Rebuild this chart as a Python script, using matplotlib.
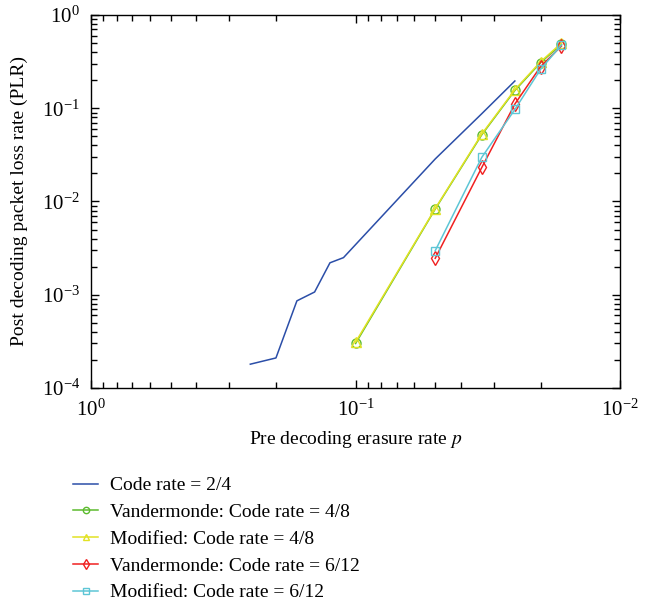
import numpy as np
import matplotlib
matplotlib.use('Agg')
import matplotlib.pyplot as plt

plt.rcParams['font.family'] = ['Liberation Serif', 'DejaVu Serif']
plt.rcParams['mathtext.fontset'] = 'stix'

# data
p_base = [1/4, 1/5, 1/6, 1/7, 1/8, 1/9, 1/10, 1/20, 1/30, 1/40]
plr_base = [1.8e-4, 2.1e-4, 8.6e-4, 1.07e-3, 2.2e-3, 2.5e-3, 3.45e-3, 2.86e-2, 8.75e-2, 1.96e-1]

p_48 = [1/10, 1/20, 1/30, 1/40, 1/50, 1/60]
plr_vand_48 = [3.0e-4, 8.3e-3, 5.2e-2, 1.55e-1, 3.08e-1, 4.85e-1]
plr_mod_48 = [3.1e-4, 8.4e-3, 5.3e-2, 1.58e-1, 3.15e-1, 5.0e-1]

p_612 = [1/20, 1/30, 1/40, 1/50, 1/60]
plr_vand_612 = [2.46e-3, 2.32e-2, 1.11e-1, 2.79e-1, 4.65e-1]
plr_mod_612 = [2.97e-3, 2.98e-2, 9.7e-2, 2.61e-1, 4.77e-1]

labels = ['Code rate = 2/4',
          'Vandermonde: Code rate = 4/8',
          'Modified: Code rate = 4/8',
          'Vandermonde: Code rate = 6/12',
          'Modified: Code rate = 6/12']

fig = plt.figure(figsize=(6.46, 6.02), dpi=100)
ax = fig.add_axes([0.1409, 0.3555, 0.8191, 0.6196])

ax.plot(p_base, plr_base, color='#2b4ea8', lw=1.1, label=labels[0])
ax.plot(p_48, plr_vand_48, color='#5cbb2e', lw=1.1, marker='o', ms=6.5,
        mfc='none', label=labels[1])
ax.plot(p_48, plr_mod_48, color='#e2e224', lw=1.1, marker='^', ms=6.5,
        mfc='none', label=labels[2])
ax.plot(p_612, plr_vand_612, color='#f02020', lw=1.1, marker='d', ms=7,
        mfc='none', label=labels[3])
ax.plot(p_612, plr_mod_612, color='#5ec6d6', lw=1.1, marker='s', ms=5.5,
        mfc='none', label=labels[4])

ax.set_xscale('log')
ax.set_yscale('log')
ax.set_xlim(1, 0.01)
ax.set_ylim(1e-4, 1)
ax.tick_params(which='both', direction='in', top=True, right=True,
               labelsize=15, width=1)
ax.tick_params(which='major', length=6, pad=8)
ax.tick_params(which='minor', length=4)
for s in ax.spines.values():
    s.set_linewidth(1)

ax.set_xlabel('Pre decoding erasure rate $p$', fontsize=14, labelpad=6)
ax.set_ylabel('Post decoding packet loss rate (PLR)', fontsize=14, labelpad=10)

fig.legend(loc='upper left', bbox_to_anchor=(0.101, 0.221), frameon=False,
           fontsize=14, handlelength=1.3, handletextpad=0.6, labelspacing=0.47,
           markerscale=0.7, borderaxespad=0)

fig.savefig('out.png', dpi=100)
